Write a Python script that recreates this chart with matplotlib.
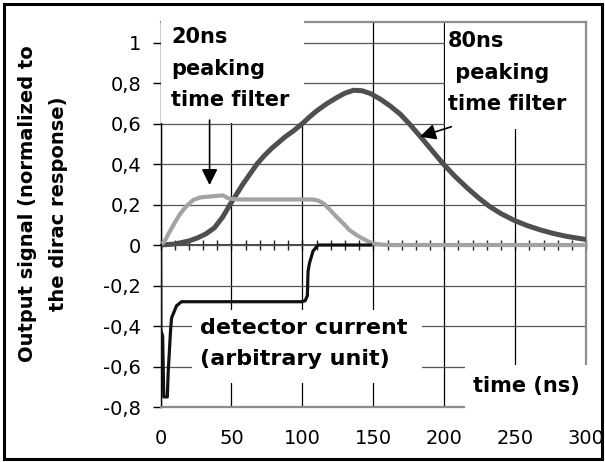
import matplotlib
matplotlib.use("Agg")
import matplotlib.pyplot as plt
from matplotlib.patches import Rectangle
from matplotlib.ticker import MultipleLocator, FixedLocator

# detector current pulse (arbitrary unit)
det_t = [0, 0.2, 1.5, 2.3, 4.8, 5.4, 7.1, 7.8, 11.3, 14.8, 99.5, 102, 103.5,
         104, 105, 107.5, 111, 148]
det_v = [0, -0.42, -0.45, -0.75, -0.75, -0.63, -0.42, -0.36, -0.30, -0.28,
         -0.28, -0.275, -0.25, -0.13, -0.09, -0.03, 0, 0]

# 20 ns peaking time shaper output
f20_t = [0, 3, 6, 10, 14, 18, 23, 28, 35, 44, 48, 55, 107, 111, 115, 120,
         124, 129, 133, 138, 143, 148, 153, 160, 300]
f20_v = [0, 0.02, 0.06, 0.11, 0.155, 0.19, 0.222, 0.235, 0.24, 0.245, 0.23,
         0.225, 0.225, 0.22, 0.205, 0.17, 0.14, 0.105, 0.075, 0.05, 0.03,
         0.012, 0.004, 0, 0]

# 80 ns peaking time shaper output
f80_t = [0, 10, 20, 26, 32, 38, 44, 49, 54, 58, 63, 68, 73, 78, 83, 88, 94,
         100, 105, 110, 117, 124, 130, 136, 142, 148, 155, 162, 169, 176, 183,
         191, 199, 207, 216, 224, 232, 240, 249, 258, 268, 277, 286, 300]
f80_v = [0, 0.005, 0.02, 0.035, 0.055, 0.085, 0.14, 0.2, 0.255, 0.3, 0.35,
         0.4, 0.44, 0.475, 0.505, 0.535, 0.565, 0.6, 0.632, 0.662, 0.697,
         0.727, 0.75, 0.764, 0.762, 0.748, 0.72, 0.686, 0.646, 0.594, 0.537,
         0.47, 0.403, 0.343, 0.283, 0.234, 0.19, 0.155, 0.123, 0.097, 0.074,
         0.057, 0.043, 0.027]

x_ticks = [0, 50, 100, 150, 200, 250, 300]
y_ticks = [-0.8, -0.6, -0.4, -0.2, 0, 0.2, 0.4, 0.6, 0.8, 1.0]
y_labels = ["-0,8", "-0,6", "-0,4", "-0,2", "0", "0,2", "0,4", "0,6", "0,8", "1"]

XMIN, XMAX = 0, 300
YMIN, YMAX = -0.8, 1.1

plt.rcParams["font.family"] = ["DejaVu Sans"]

fig = plt.figure(figsize=(6.05, 4.62), dpi=100)
ax = fig.add_axes([0.2653, 0.119, 0.7035, 0.8328])
ax.set_xlim(XMIN, XMAX)
ax.set_ylim(YMIN, YMAX)
ax.set_axisbelow(True)

# grid: black verticals every 50 ns, dark grey horizontals every 0.2
ax.xaxis.set_major_locator(FixedLocator(x_ticks))
ax.yaxis.set_major_locator(FixedLocator(y_ticks))
ax.set_yticklabels(y_labels)
ax.grid(axis="x", color="black", lw=0.9)
ax.grid(axis="y", color="#555555", lw=0.9)

for side in ["top", "right", "bottom"]:
    ax.spines[side].set_color("#8c8c8c")
    ax.spines[side].set_linewidth(1.6)
ax.spines["left"].set_color("black")
ax.spines["left"].set_linewidth(1.0)

ax.tick_params(axis="x", length=0, pad=16, labelsize=14)
ax.tick_params(axis="y", direction="out", length=6, width=1, pad=8,
               labelsize=14, color="black")

# time axis through zero with a tick every 10 ns
zero_pos = (0 - YMIN) / (YMAX - YMIN)
sec = ax.secondary_xaxis(zero_pos)
sec.xaxis.set_major_locator(MultipleLocator(10))
sec.tick_params(direction="inout", length=7, width=1, labelbottom=False,
                color="#222222")
sec.spines["bottom"].set_color("#222222")
sec.spines["bottom"].set_linewidth(1.2)

# white label backgrounds hiding the grid
boxes = [
    ((0.6, 0.605), 100.4, 0.52, 2.7),
    ((200.4, 0.575), 99.2, 0.53, 2.2),
    ((22, -0.681), 162, 0.36, 2.7),
    ((214.7, -0.85), 92, 0.257, 2.7),
]
for xy, w, h, z in boxes:
    ax.add_patch(Rectangle(xy, w, h, facecolor="white", edgecolor="none",
                           zorder=z, clip_on=False))

ax.plot(f80_t, f80_v, color="#4f4f4f", lw=3.6, zorder=4,
        solid_joinstyle="round")
ax.plot(f20_t, f20_v, color="#a3a3a3", lw=3.0, zorder=4,
        solid_joinstyle="round")
ax.plot(det_t, det_v, color="#111111", lw=2.3, zorder=5)

label_kw = dict(fontweight="bold", color="black", zorder=6, linespacing=1.72)
ax.text(7.6, 1.075, "20ns\npeaking\ntime filter", ha="left", va="top",
        fontsize=15, **label_kw)
ax.text(202.7, 1.055, "80ns\n peaking\ntime filter", ha="left", va="top",
        fontsize=15, **label_kw)
ax.text(27.9, -0.36, "detector current\n(arbitrary unit)", ha="left",
        va="top", fontsize=16, **label_kw)
ax.text(257.7, -0.696, "time (ns)", ha="center", va="center", fontsize=15,
        **label_kw)

arrow_kw = dict(arrowstyle="-|>", color="black", lw=1.2, mutation_scale=24,
                shrinkA=0, shrinkB=0)
ax.annotate("", xy=(34.6, 0.296), xytext=(34.6, 0.617),
            arrowprops=arrow_kw, zorder=6)
ax.annotate("", xy=(182.8, 0.535), xytext=(205, 0.584),
            arrowprops=arrow_kw, zorder=6)

fig.text(0.071, 0.56, "Output signal (normalized to\nthe dirac response)",
         rotation=90, ha="center", va="center", fontsize=14,
         fontweight="bold", linespacing=1.85, multialignment="center")

# outer frame around the whole figure
fig.patches.append(Rectangle((0.0066, 0.0065), 0.9884, 0.9848,
                             transform=fig.transFigure, fill=False,
                             edgecolor="black", lw=2.2))

fig.savefig("out.png", dpi=100)
